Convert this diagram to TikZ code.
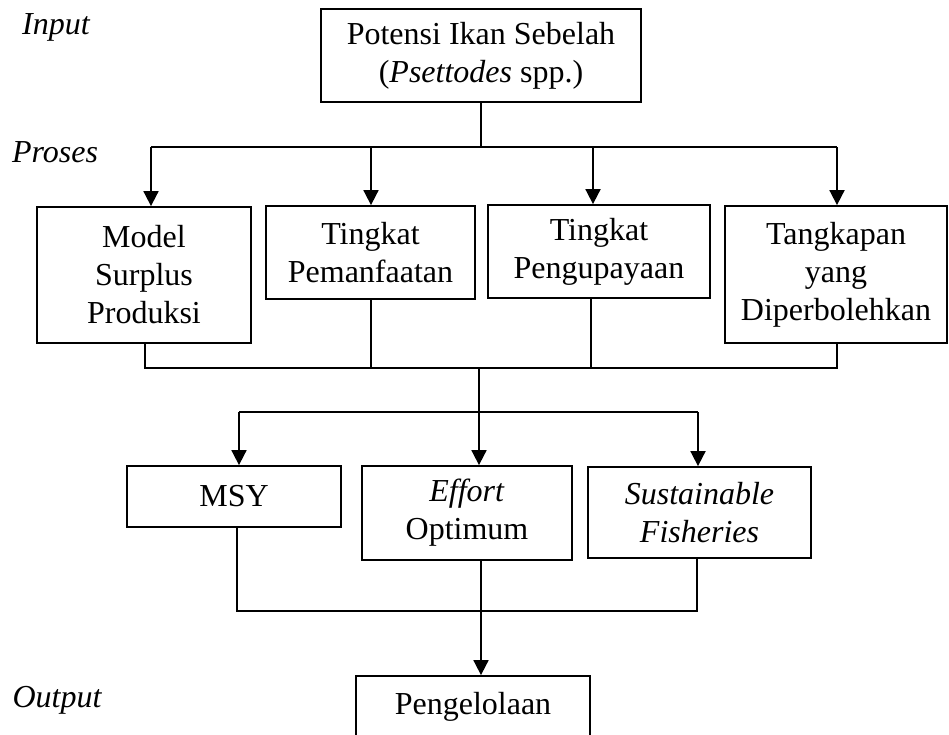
\documentclass[tikz,border=0pt]{standalone}
\usepackage{fontspec}
\setmainfont{Liberation Serif}
\usetikzlibrary{arrows.meta}
\tikzset{
  box/.style={draw, line width=1.8pt, inner sep=0pt, align=center, font=\fontsize{32}{38}\selectfont},
  lbl/.style={inner sep=0pt, font=\fontsize{32}{38}\selectfont\itshape},
  ln/.style={line width=1.8pt},
  arr/.style={line width=1.8pt, -{Triangle[width=15pt,length=15pt]}}
}
\begin{document}
\begin{tikzpicture}[x=1pt,y=-1pt]
\clip (0,0) rectangle (949,734);
\fill[white] (0,0) rectangle (949,734);
% labels
\node[lbl] (lin) at (56,27) {Input};
\node[lbl] (lpr) at (55,152) {Proses};
\node[lbl] (lout) at (57,700) {Output};
% boxes
\node[box, minimum width=320pt, minimum height=93pt] (top) at (481,55.5) {Potensi Ikan Sebelah\\(\textit{Psettodes} spp.)};
\node[box, minimum width=214pt, minimum height=136pt] (model) at (144,275) {Model\\Surplus\\Produksi};
\node[box, minimum width=209pt, minimum height=93pt] (peman) at (370.5,252.5) {Tingkat\\Pemanfaatan};
\node[box, minimum width=222pt, minimum height=93pt] (pengu) at (599,251.5) {Tingkat\\Pengupayaan};
\node[box, minimum width=222pt, minimum height=137pt] (tangk) at (836,274.5) {Tangkapan\\yang\\Diperbolehkan};
\node[box, minimum width=214pt, minimum height=61pt] (msy) at (234,496.5) {MSY};
\node[box, minimum width=210pt, minimum height=94pt] (effort) at (467,513) {\textit{Effort}\\Optimum};
\node[box, minimum width=223pt, minimum height=91pt] (sust) at (699.5,512.5) {\textit{Sustainable}\\\textit{Fisheries}};
\node[box, minimum width=234pt, minimum height=74pt] (out) at (473,713) {};
\node[inner sep=0pt, font=\fontsize{32}{38}\selectfont] (outt) at (473,707) {Pengelolaan};
% junction coordinates
\coordinate (a0) at (481,147);
\coordinate (a1) at (151,147);
\coordinate (a2) at (371,147);
\coordinate (a3) at (593,147);
\coordinate (a4) at (837,147);
\coordinate (b1) at (145,368);
\coordinate (b2) at (371,368);
\coordinate (b3) at (591,368);
\coordinate (b4) at (837,368);
\coordinate (b0) at (479,368);
\coordinate (c1) at (239,412);
\coordinate (c2) at (479,412);
\coordinate (c3) at (698,412);
\coordinate (d1) at (237,611);
\coordinate (d2) at (697,611);
\coordinate (d0) at (481,611);
% top distribution
\draw[ln] (top.south -| a0) -- (a0);
\draw[ln] (a1) -- (a4);
\draw[arr] (a1) -- (a1 |- model.north);
\draw[arr] (a2) -- (a2 |- peman.north);
\draw[arr] (a3) -- (a3 |- pengu.north);
\draw[arr] (a4) -- (a4 |- tangk.north);
% collect row 2
\draw[ln] (b1 |- model.south) -- (b1) -- (b4) -- (b4 |- tangk.south);
\draw[ln] (b2 |- peman.south) -- (b2);
\draw[ln] (b3 |- pengu.south) -- (b3);
% distribute row 3
\draw[ln] (c1) -- (c3);
\draw[arr] (b0) -- (c2 |- effort.north);
\draw[arr] (c1) -- (c1 |- msy.north);
\draw[arr] (c3) -- (c3 |- sust.north);
% collect row 3
\draw[ln] (d1 |- msy.south) -- (d1) -- (d2) -- (d2 |- sust.south);
\draw[arr] (d0 |- effort.south) -- (d0 |- out.north);
\end{tikzpicture}
\end{document}
